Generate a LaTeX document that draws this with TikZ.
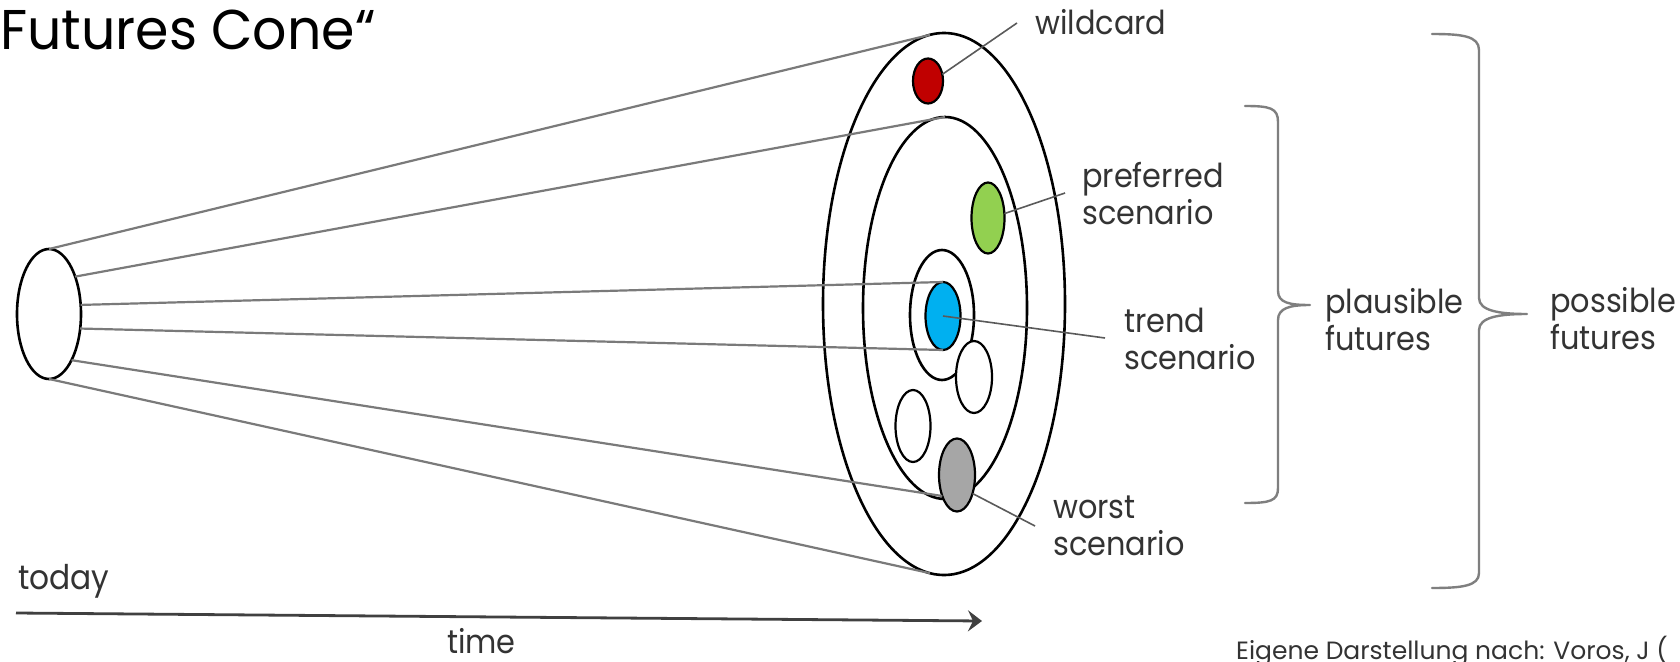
\documentclass[tikz,border=0pt]{standalone}
\usepackage{fontspec}
\setmainfont{Poppins}
\newfontfamily\lblfont[FakeStretch=0.92]{Poppins}
\newfontfamily\titlefont[FakeStretch=0.96]{Poppins}
\usetikzlibrary{shapes.geometric,arrows.meta}
\definecolor{wred}{HTML}{C00000}
\definecolor{pgreen}{HTML}{92D050}
\definecolor{tblue}{HTML}{00B0F0}
\definecolor{wgray}{HTML}{A6A6A6}
\definecolor{conegray}{HTML}{7A7A7A}
\definecolor{leadgray}{HTML}{5A5A5A}
\definecolor{bracegray}{HTML}{7F7F7F}
\definecolor{txt}{HTML}{333333}
\newcommand{\twolines}[2]{\begin{tabular}[t]{@{}l@{}}#1\\#2\end{tabular}}
\begin{document}
\begin{tikzpicture}[x=1pt,y=-1pt,
  ell/.style={ellipse, draw=black, line width=2.6pt, inner sep=0pt, outer sep=0pt},
  small/.style={ellipse, draw=black, line width=2.2pt, inner sep=0pt, outer sep=0pt},
  cone/.style={draw=conegray, line width=2.2pt},
  lead/.style={draw=leadgray, line width=1.6pt},
  lbl/.style={anchor=base west, inner sep=0pt, text=txt, font=\lblfont\fontsize{33}{37}\selectfont},
  brace/.style={draw=bracegray, line width=2.4pt, line cap=round, line join=round},
  timearrow/.style={draw=black!75, line width=2.8pt, -{Stealth[length=14pt,width=21pt,inset=5pt]}}]
\fill[white] (0,0) rectangle (1680,661);
\useasboundingbox (0,0) rectangle (1680,661);

% title
\node[anchor=base west, inner sep=0pt, font=\titlefont\fontsize{56}{60}\selectfont] (title) at (0,50) {Futures Cone“};

% big ellipses
\node[ell, minimum width=242, minimum height=542] (O) at (944,304) {};
\node[ell, minimum width=164, minimum height=382] (I) at (945,308) {};
\node[ell, minimum width=64, minimum height=130] (T) at (942,315) {};

% today ellipse
\node[ell, fill=white, minimum width=64, minimum height=130] (L) at (49,314) {};

% small scenario ellipses
\node[small, fill=tblue, minimum width=35, minimum height=68] (B) at (943,316) {};
\node[small, fill=white, minimum width=36, minimum height=72] (W1) at (974,377) {};
\node[small, fill=white, minimum width=35, minimum height=72] (W2) at (913,426) {};
\node[small, fill=wgray, minimum width=36, minimum height=73] (G) at (957,475) {};
\node[small, fill=wred, minimum width=30, minimum height=45] (R) at (928,81) {};
\node[small, fill=pgreen, minimum width=33, minimum height=71] (P) at (988,218) {};

% cone lines
\draw[cone] (L.north) -- (O.93);
\draw[cone] (L.55) -- (I.north);
\draw[cone] (L.16) -- (B.north);
\draw[cone] (L.-25) -- (B.south);
\draw[cone] (L.-64) -- (G.235);
\draw[cone] (L.south) -- (O.-93);

% leader lines
\coordinate (wcEnd) at (1017,23);
\coordinate (pfEnd) at (1065,193);
\coordinate (trEnd) at (1105,338);
\coordinate (wsEnd) at (1035,526);
\draw[lead] (R.25) -- (wcEnd);
\draw[lead] (P.15) -- (pfEnd);
\draw[lead] (B.center) -- (trEnd);
\draw[lead] (G.-50) -- (wsEnd);

% labels
\node[lbl] (wc) at (1035,35) {wildcard};
\node[lbl] (pf) at (1082,187) {\twolines{preferred}{scenario}};
\node[lbl] (tr) at (1124,332) {\twolines{trend}{scenario}};
\node[lbl] (ws) at (1053,518) {\twolines{worst}{scenario}};
\node[lbl] (pl) at (1325,313) {\twolines{plausible}{futures}};
\node[lbl] (po) at (1550,312) {\twolines{possible}{futures}};

% braces
\draw[brace] (1245,106) .. controls (1270,106) and (1278,108) .. (1278,122)
  -- (1278,291) .. controls (1278,303) and (1290,305) .. (1310,305)
  .. controls (1290,305) and (1278,308) .. (1278,320)
  -- (1278,488) .. controls (1278,501) and (1270,503) .. (1245,503);
\draw[brace] (1432,34) .. controls (1462,34) and (1479,36) .. (1479,50)
  -- (1479,298) .. controls (1479,311) and (1500,314) .. (1527,314)
  .. controls (1500,314) and (1479,317) .. (1479,330)
  -- (1479,573) .. controls (1479,586) and (1462,588) .. (1432,588);

% time axis
\coordinate (t0) at (16,613);
\coordinate (t1) at (982,621);
\draw[timearrow] (t0) -- (t1);
\node[lbl, font=\lblfont\fontsize{34}{37}\selectfont] (today) at (18,589) {today};
\node[lbl, font=\lblfont\fontsize{33}{37}\selectfont] (time) at (447,653) {time};

% footer
\node[anchor=base west, inner sep=0pt, text=txt, font=\fontsize{25}{28}\selectfont] (foot) at (1236,659) {Eigene Darstellung nach: Voros, J (};
\end{tikzpicture}
\end{document}
